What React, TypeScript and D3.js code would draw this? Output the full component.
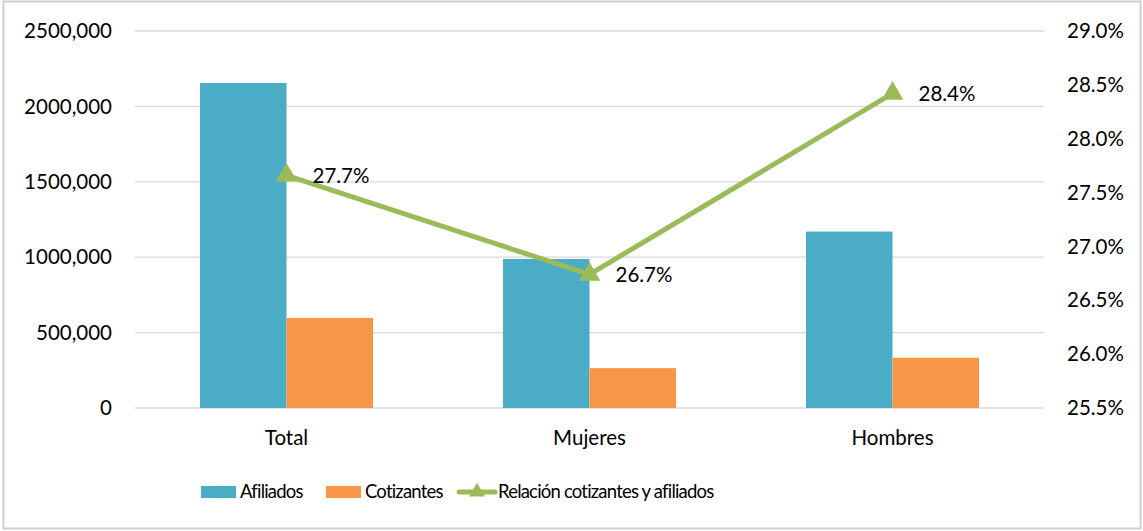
import { useEffect, useRef } from "react";
import * as d3 from "d3";

const categories = ["Total", "Mujeres", "Hombres"];
const afiliados = [2155000, 988000, 1170000];
const cotizantes = [597000, 264000, 333000];
const relacion = [27.66, 26.74, 28.42];
const leftTicks = [0, 500000, 1000000, 1500000, 2000000, 2500000];
const rightTicks = [25.5, 26.0, 26.5, 27.0, 27.5, 28.0, 28.5, 29.0];

const W = 1143;
const H = 531;
const FONT = "Lato, sans-serif";
const FS = 20.5;

const App = () => {
  const svgRef = useRef<SVGSVGElement>(null);

  useEffect(() => {
    const svg = d3.select(svgRef.current);
    svg.selectAll("*").remove();

    const margin = { top: 31, right: 99, bottom: 123, left: 135 };
    const width = W - margin.left - margin.right;
    const height = H - margin.top - margin.bottom;

    svg
      .append("rect")
      .attr("x", 3.5)
      .attr("y", 1.5)
      .attr("width", W - 6)
      .attr("height", H - 4)
      .attr("fill", "#fff")
      .attr("stroke", "#d0d0d0")
      .attr("stroke-width", 2);

    const g = svg.append("g").attr("transform", `translate(${margin.left},${margin.top})`);

    const x = d3.scaleBand().domain(categories).range([0, width]).paddingInner(0).paddingOuter(0);
    const y = d3.scaleLinear().domain([0, 2500000]).range([height, 0]);
    const y2 = d3.scaleLinear().domain([25.5, 29.0]).range([height, 0]);

    // grid
    g.selectAll(".grid")
      .data(leftTicks)
      .enter()
      .append("line")
      .attr("x1", 0)
      .attr("x2", width)
      .attr("y1", (d) => y(d))
      .attr("y2", (d) => y(d))
      .attr("stroke", "#d9d9d9")
      .attr("stroke-width", 1.3);

    const fmtLeft = (d: number) => (d === 0 ? "0" : `${Math.floor(d / 1000)},000`);

    g.selectAll(".lt")
      .data(leftTicks)
      .enter()
      .append("text")
      .attr("x", -23)
      .attr("y", (d) => y(d))
      .attr("dy", "0.35em")
      .attr("text-anchor", "end")
      .attr("font-family", FONT)
      .attr("font-size", FS)
      .attr("fill", "#000")
      .text(fmtLeft);

    g.selectAll(".rt")
      .data(rightTicks)
      .enter()
      .append("text")
      .attr("x", width + 23)
      .attr("y", (d) => y2(d))
      .attr("dy", "0.35em")
      .attr("text-anchor", "start")
      .attr("font-family", FONT)
      .attr("font-size", FS)
      .attr("fill", "#000")
      .text((d) => d3.format(".1f")(d) + "%");

    const barW = 86.5;
    const cx = (c: string) => (x(c) as number) + x.bandwidth() / 2;

    g.selectAll(".afi")
      .data(afiliados)
      .enter()
      .append("rect")
      .attr("x", (_, i) => cx(categories[i]) - barW)
      .attr("y", (d) => y(d))
      .attr("width", barW)
      .attr("height", (d) => height - y(d))
      .attr("fill", "#4bacc6");

    g.selectAll(".cot")
      .data(cotizantes)
      .enter()
      .append("rect")
      .attr("x", (_, i) => cx(categories[i]))
      .attr("y", (d) => y(d))
      .attr("width", barW)
      .attr("height", (d) => height - y(d))
      .attr("fill", "#f79646");

    g.selectAll(".cat")
      .data(categories)
      .enter()
      .append("text")
      .attr("x", (d) => cx(d))
      .attr("y", height + 30)
      .attr("dy", "0.35em")
      .attr("text-anchor", "middle")
      .attr("font-family", FONT)
      .attr("font-size", FS)
      .attr("fill", "#000")
      .text((d) => d);

    const line = d3
      .line<number>()
      .x((_, i) => cx(categories[i]))
      .y((d) => y2(d));

    g.append("path")
      .datum(relacion)
      .attr("fill", "none")
      .attr("stroke", "#9bbb59")
      .attr("stroke-width", 5)
      .attr("stroke-linejoin", "round")
      .attr("d", line);

    const tri = d3.symbol().type(d3.symbolTriangle).size(200);

    g.selectAll(".mk")
      .data(relacion)
      .enter()
      .append("path")
      .attr("d", tri)
      .attr("transform", (d, i) => `translate(${cx(categories[i])},${y2(d)})`)
      .attr("fill", "#9bbb59");

    g.selectAll(".lbl")
      .data(relacion)
      .enter()
      .append("text")
      .attr("x", (_, i) => cx(categories[i]) + 26)
      .attr("y", (d) => y2(d))
      .attr("dy", "0.35em")
      .attr("font-family", FONT)
      .attr("font-size", FS)
      .attr("fill", "#000")
      .text((d) => d3.format(".1f")(d) + "%");

    // legend
    const lg = svg
      .append("g")
      .attr("transform", `translate(0,492)`)
      .attr("font-family", FONT)
      .attr("font-size", 18.5)
      .attr("letter-spacing", -0.8);
    lg.append("rect").attr("x", 201).attr("y", -6).attr("width", 35).attr("height", 12).attr("fill", "#4bacc6");
    lg.append("text").attr("x", 240).attr("dy", "0.35em").text("Afiliados");
    lg.append("rect").attr("x", 326).attr("y", -6).attr("width", 35).attr("height", 12).attr("fill", "#f79646");
    lg.append("text").attr("x", 365).attr("dy", "0.35em").text("Cotizantes");
    lg.append("line").attr("x1", 459).attr("x2", 495).attr("stroke", "#9bbb59").attr("stroke-width", 5).attr("stroke-linecap", "round");
    lg.append("path").attr("d", d3.symbol().type(d3.symbolTriangle).size(110)).attr("transform", "translate(477,0)").attr("fill", "#9bbb59");
    lg.append("text").attr("x", 498).attr("dy", "0.35em").text("Relación cotizantes y afiliados");
  }, []);

  return (
    <div style={{ position: "absolute", left: 0, top: 0 }}>
      <svg ref={svgRef} width={W} height={H} style={{ display: "block" }} />
    </div>
  );
};

export default App;
